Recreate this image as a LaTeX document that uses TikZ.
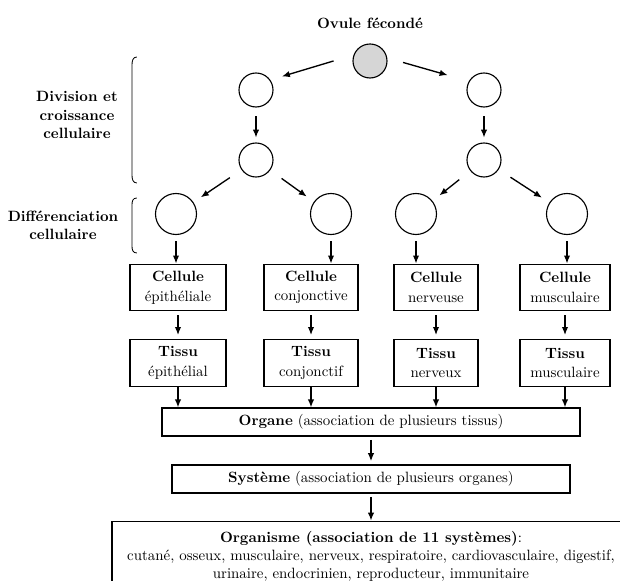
\documentclass[tikz,border=0pt]{standalone}
\usepackage{tikz}
\usetikzlibrary{arrows.meta,positioning,calc,shapes.geometric}
\tikzset{
  >={Latex[length=2mm,width=1.6mm]},
  cell/.style={circle, draw, line width=0.8pt, minimum size=0.85cm, inner sep=0pt},
  bigcell/.style={cell, minimum size=1.025cm},
  egg/.style={cell, fill=black!16},
  stage/.style={draw, line width=0.8pt, align=center, minimum height=1.17cm, inner sep=2pt},
  wide/.style={draw, line width=0.8pt, minimum height=0.7cm, align=center},
  lbl/.style={font=\bfseries, align=center},
  flow/.style={->, line width=0.95pt},
  bracket/.style={line width=0.6pt},
}

\begin{document}
\fontsize{10.6}{13}\selectfont
\begin{tikzpicture}
    \useasboundingbox (0,0) rectangle (15.5,14.525);
    \clip (0,0) rectangle (15.5,14.525);
    % fertilised egg and first divisions
    \node[lbl] (ovule) at (9.25,13.95) {Ovule fécondé};
    \node[egg] (egg) at (9.25,13.0) {};
    \node[cell] (a1) at (6.4,12.275) {};
    \node[cell] (b1) at (12.1,12.275) {};
    \node[cell] (a2) at (6.4,10.525) {};
    \node[cell] (b2) at (12.1,10.525) {};
    \draw[flow, shorten <=0.52cm, shorten >=0.3cm] (egg.160) -- (a1.35);
    \draw[flow, shorten <=0.41cm, shorten >=0.55cm] (egg.10) -- (b1.150);
    \draw[flow, shorten <=0.22cm, shorten >=0.12cm] (a1) -- (a2);
    \draw[flow, shorten <=0.22cm, shorten >=0.12cm] (b1) -- (b2);
    % differentiation
    \foreach \i/\x in {1/4.4,2/8.275,3/10.4,4/14.175}{
      \node[bigcell] (c\i) at (\x,9.175) {};}
    \draw[flow, shorten <=0.35cm, shorten >=0.22cm] (a2) -- (c1);
    \draw[flow, shorten <=0.35cm, shorten >=0.22cm] (a2) -- (c2);
    \draw[flow, shorten <=0.35cm, shorten >=0.22cm] (b2) -- (c3);
    \draw[flow, shorten <=0.35cm, shorten >=0.22cm] (b2) -- (c4);
    % side labels
    \draw[bracket] (3.42,13.1) .. controls (3.32,13.1) and (3.3,13.0) .. (3.3,12.9)
          -- (3.3,10.15) .. controls (3.3,10.05) and (3.32,9.95) .. (3.42,9.95);
    \draw[bracket] (3.42,9.575) .. controls (3.32,9.575) and (3.3,9.5) .. (3.3,9.4)
          -- (3.3,8.375) .. controls (3.3,8.275) and (3.32,8.2) .. (3.42,8.2);
    \node[lbl] (divlbl) at (1.925,11.65) {Division et\\croissance\\cellulaire};
    \node[lbl] (diflbl) at (1.575,8.9) {Différenciation\\cellulaire};
    % cells and tissues
    \foreach \i/\x/\w/\cel/\tis in {1/4.45/2.4/épithéliale/épithélial,
        2/7.775/2.35/conjonctive/conjonctif, 3/10.9/2.1/nerveuse/nerveux,
        4/14.125/2.25/musculaire/musculaire}{
      \node[stage, minimum width=\w cm] (cel\i) at (\x,7.3375) {\textbf{Cellule}\\[1pt] \cel};
      \node[stage, minimum width=\w cm] (tis\i) at (\x,5.45) {\textbf{Tissu}\\[1pt] \tis};
      \draw[flow, shorten <=0.15cm] (c\i.south) -- (c\i.south |- cel\i.north);
      \draw[flow, shorten <=0.1cm, shorten >=0.1cm] (cel\i) -- (tis\i);
    }
    % organ, system, organism
    \node[wide, minimum width=10.45cm] (organe) at (9.275,3.975)
          {\textbf{Organe} (association de plusieurs tissus)};
    \foreach \i in {1,...,4}
      \draw[flow] (tis\i) -- (tis\i |- organe.north);
    \node[wide, minimum width=9.95cm] (systeme) at (9.275,2.55)
          {\textbf{Système} (association de plusieurs organes)};
    \draw[flow, shorten <=0.08cm, shorten >=0.08cm] (organe) -- (systeme);
    \node[wide, minimum width=12.95cm, minimum height=1.75cm] (organisme) at (9.275,0.62)
          {\textbf{Organisme (association de 11 systèmes)}:\\
           cutané, osseux, musculaire, nerveux, respiratoire, cardiovasculaire, digestif,\\
           urinaire, endocrinien, reproducteur, immunitaire};
    \draw[flow, shorten <=0.08cm] (systeme) -- (organisme);
\end{tikzpicture}
\end{document}
